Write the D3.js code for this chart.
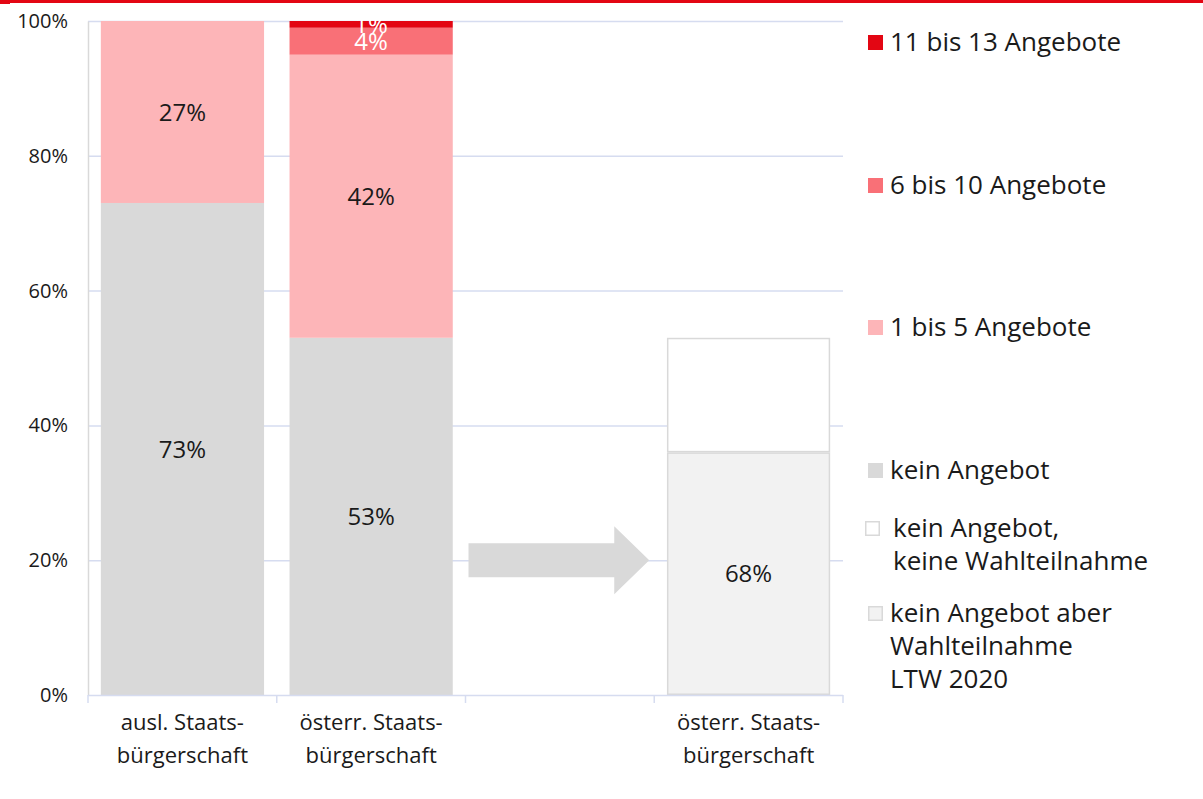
<!DOCTYPE html>
<html>
<head>
<meta charset="utf-8">
<script src="https://cdn.jsdelivr.net/npm/d3@7"></script>
<style>
  html, body { margin: 0; padding: 0; background: #fff; }
  svg { display: block; font-family: "Open Sans", "DejaVu Sans", sans-serif; }
</style>
</head>
<body>
<div id="chart"></div>
<script>
// categories (third slot is empty: only the arrow lives there)
var categories = ["ausl", "oesterr", "pfeil", "oesterrLtw"];
var categoryLabels = [["ausl. Staats-", "bürgerschaft"], ["österr. Staats-", "bürgerschaft"], [], ["österr. Staats-", "bürgerschaft"]];

// shares in percent, one value per category
var keinAngebot    = [73, 53, 0, 0];
var einsBisFuenf   = [27, 42, 0, 0];
var sechsBisZehn   = [0, 4, 0, 0];
var elfBisDreizehn = [0, 1, 0, 0];
var mitWahl        = [0, 0, 0, 36];
var ohneWahl       = [0, 0, 0, 17];
// label of the LTW bar is the share within "kein Angebot"
var mitWahlLabel   = [null, null, null, 68];

var yTicks = [0, 20, 40, 60, 80, 100];

var series = [
  { key: "kein",  name: ["kein Angebot"], values: keinAngebot, fill: "#d9d9d9", text: "#1a1a1a" },
  { key: "b1",    name: ["1 bis 5 Angebote"], values: einsBisFuenf, fill: "#fdb5b8", text: "#1a1a1a" },
  { key: "b6",    name: ["6 bis 10 Angebote"], values: sechsBisZehn, fill: "#f97077", text: "#fff" },
  { key: "b11",   name: ["11 bis 13 Angebote"], values: elfBisDreizehn, fill: "#e30613", text: "#fff" },
  { key: "wahl",  name: ["kein Angebot aber", "Wahlteilnahme", "LTW 2020"], values: mitWahl, fill: "#f2f2f2", stroke: "#d9d9d9", text: "#1a1a1a", labels: mitWahlLabel },
  { key: "nwahl", name: ["kein Angebot,", "keine Wahlteilnahme"], values: ohneWahl, fill: "#ffffff", stroke: "#d9d9d9", text: "#1a1a1a", noLabel: true }
];

// legend order top-down and their vertical anchors
var legendOrder = ["b11", "b6", "b1", "kein", "nwahl", "wahl"];
var legendY = [42, 185, 327, 470, 528, 613];

var W = 1203, H = 799;
var margin = { top: 21, right: 360, bottom: 104, left: 88 };
var width = W - margin.left - margin.right,
    height = H - margin.top - margin.bottom;

var svg = d3.select("#chart").append("svg")
    .attr("width", W)
    .attr("height", H);

// red strip at the very top
svg.append("rect").attr("x", 0).attr("y", 0).attr("width", W).attr("height", 3).attr("fill", "#e30613");
svg.append("rect").attr("x", 0).attr("y", 0).attr("width", 10).attr("height", 4).attr("fill", "#e30613");

var g = svg.append("g")
    .attr("transform", "translate(" + margin.left + "," + margin.top + ")");

var x = d3.scaleBand()
    .domain(categories)
    .range([0, width])
    .paddingInner(0.135)
    .paddingOuter(0.068);

var band = d3.scaleBand().domain(categories).range([0, width]);

var y = d3.scaleLinear().domain([0, 100]).range([height, 0]);

// gridlines
g.append("g").selectAll("line")
  .data(yTicks.filter(function(d) { return d > 0; }))
  .enter().append("line")
    .attr("x1", 0).attr("x2", width)
    .attr("y1", function(d) { return y(d) + 0.5; })
    .attr("y2", function(d) { return y(d) + 0.5; })
    .attr("stroke", "#d6dcf0")
    .attr("stroke-width", 1.5);

// y axis
var yAxis = g.append("g")
    .call(d3.axisLeft(y).tickValues(yTicks).tickSize(0).tickPadding(20).tickFormat(function(d) { return d + "%"; }));
yAxis.select(".domain").attr("stroke", "#d9d9d9").attr("stroke-width", 1.5);
yAxis.selectAll("text").attr("font-size", 20).attr("fill", "#1a1a1a").attr("font-family", "Open Sans");

// stacked bars
var table = categories.map(function(c, i) {
  var row = { cat: c };
  series.forEach(function(s) { row[s.key] = s.values[i]; });
  return row;
});
var stacked = d3.stack().keys(series.map(function(s) { return s.key; }))(table);

stacked.forEach(function(layer, li) {
  var s = series[li];
  var grp = g.append("g");
  grp.selectAll("rect")
    .data(layer.filter(function(d) { return d[1] - d[0] > 0; }))
    .enter().append("rect")
      .attr("x", function(d) { return x(d.data.cat) + (s.stroke ? 0.75 : 0); })
      .attr("width", x.bandwidth() - (s.stroke ? 1.5 : 0))
      .attr("y", function(d) { return y(d[1]) + (s.stroke ? 0.75 : 0); })
      .attr("height", function(d) { return y(d[0]) - y(d[1]) - (s.stroke ? 1.5 : 0); })
      .attr("fill", s.fill)
      .attr("stroke", s.stroke || "none")
      .attr("stroke-width", 1.5);

  if (s.noLabel) return;
  grp.selectAll("text")
    .data(layer.map(function(d, i) { return { d: d, i: i }; }).filter(function(o) {
      return o.d[1] - o.d[0] > 0;
    }))
    .enter().append("text")
      .attr("x", function(o) { return x(o.d.data.cat) + x.bandwidth() / 2; })
      .attr("y", function(o) { return (y(o.d[0]) + y(o.d[1])) / 2; })
      .attr("dy", "0.36em")
      .attr("text-anchor", "middle")
      .attr("font-size", 24)
      .attr("fill", s.text)
      .text(function(o) {
        var v = s.labels ? s.labels[o.i] : s.values[o.i];
        return v + "%";
      });
});

// arrow in the empty slot, pointing at the LTW bar
var ax0 = band("pfeil") + 3, ax1 = band("pfeil") + band.bandwidth() - 5;
var ay = y(20);
var arrow = d3.path();
arrow.moveTo(ax0, ay - 17);
arrow.lineTo(ax1 - 35, ay - 17);
arrow.lineTo(ax1 - 35, ay - 34);
arrow.lineTo(ax1, ay);
arrow.lineTo(ax1 - 35, ay + 34);
arrow.lineTo(ax1 - 35, ay + 17);
arrow.lineTo(ax0, ay + 17);
arrow.closePath();
g.append("path").attr("d", arrow.toString()).attr("fill", "#d9d9d9");

// x axis with ticks between bands
var xAxis = g.append("g").attr("transform", "translate(0," + height + ")");
xAxis.append("line")
  .attr("x1", 0).attr("x2", width)
  .attr("y1", 0.5).attr("y2", 0.5)
  .attr("stroke", "#d6dcf0").attr("stroke-width", 1.5);
xAxis.selectAll(".tk")
  .data(categories.concat([null]))
  .enter().append("line")
    .attr("x1", function(d) { return d === null ? width : band(d); })
    .attr("x2", function(d) { return d === null ? width : band(d); })
    .attr("y1", 0).attr("y2", 8)
    .attr("stroke", "#d6dcf0").attr("stroke-width", 1.5);
categories.forEach(function(c, i) {
  var t = xAxis.append("text")
    .attr("x", band(c) + band.bandwidth() / 2)
    .attr("y", 35)
    .attr("text-anchor", "middle")
    .attr("font-size", 22)
    .attr("fill", "#1a1a1a");
  categoryLabels[i].forEach(function(line, j) {
    t.append("tspan").attr("x", band(c) + band.bandwidth() / 2).attr("dy", j ? 33 : 0).text(line);
  });
});

// legend
var legend = svg.append("g");
legendOrder.forEach(function(k, i) {
  var s = series.find(function(d) { return d.key === k; });
  var ly = legendY[i];
  var mx = s.key === "nwahl" ? 865 : 868;
  legend.append("rect")
    .attr("x", mx + (s.stroke ? 0.75 : 0)).attr("y", ly - 7 + (s.stroke ? 0.75 : 0))
    .attr("width", 15 - (s.stroke ? 1.5 : 0)).attr("height", 15 - (s.stroke ? 1.5 : 0))
    .attr("fill", s.fill)
    .attr("stroke", s.stroke || "none")
    .attr("stroke-width", 1.5);
  var tx = s.key === "nwahl" ? 893 : 890;
  var t = legend.append("text")
    .attr("x", tx).attr("y", ly)
    .attr("dy", "0.36em")
    .attr("font-size", 26)
    .attr("fill", "#1a1a1a");
  s.name.forEach(function(line, j) {
    t.append("tspan").attr("x", tx).attr("dy", j ? 33 : "0.36em").text(line);
  });
});
</script>
</body>
</html>
